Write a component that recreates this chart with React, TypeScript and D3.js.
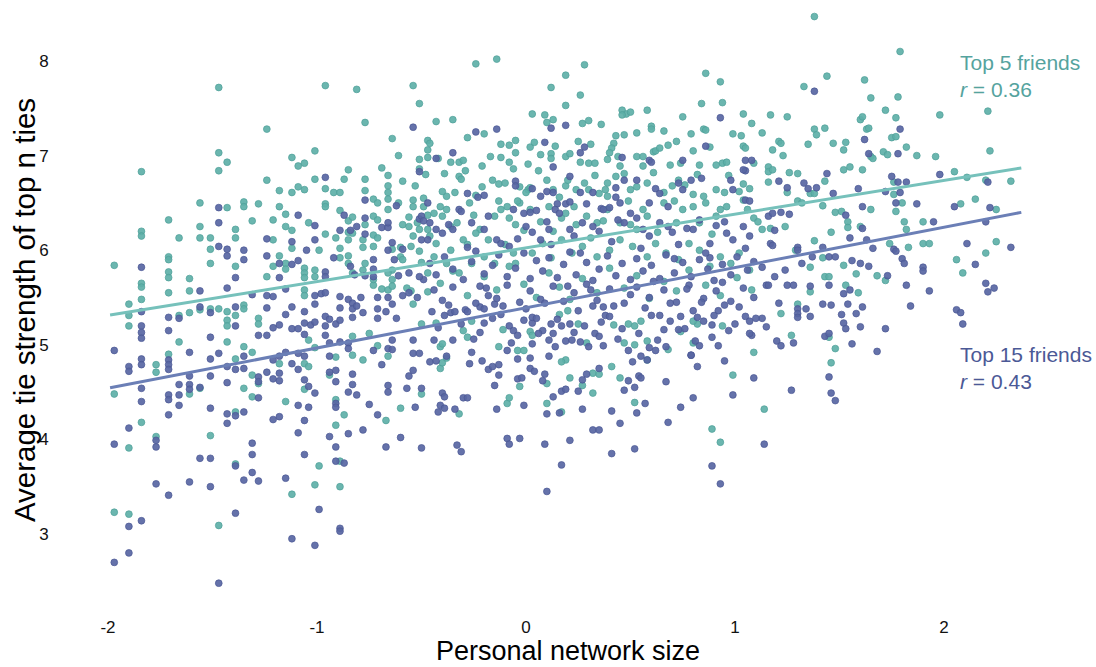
import React from "react";
import * as d3 from "d3";

// Average tie strength of a participant's top 5 / top 15 friends vs. personal network size (z-scored)
const top5Friends: [number, number][] = [
  [-1.47,7.72],[-0.96,7.74],[-0.81,7.70],[-0.54,7.74],[-0.51,7.55],[-1.24,7.28],[-0.77,7.35],[-0.64,7.18],[-0.61,7.00],[-1.84,6.83],
  [-1.47,7.03],[-1.43,6.93],[-1.47,6.84],[-1.12,6.98],[-1.06,6.92],[-1.09,6.89],[-1.01,7.05],[-0.85,6.85],[-0.87,6.75],[-0.77,6.75],
  [-0.69,6.87],[-0.66,6.79],[-0.59,6.73],[-0.53,6.68],[-1.24,6.74],[-1.18,6.63],[-1.12,6.61],[-1.06,6.64],[-1.09,6.67],[-1.01,6.75],
  [-0.96,6.65],[-0.92,6.61],[-0.89,6.61],[-0.77,6.63],[-1.56,6.50],[-1.35,6.51],[-1.35,6.46],[-1.28,6.49],[-1.43,6.45],[-1.18,6.46],
  [-1.15,6.38],[-1.21,6.32],[-1.31,6.31],[-1.71,6.32],[-1.84,6.20],[-1.84,6.15],[-1.66,6.13],[-1.56,6.25],[-1.56,6.13],[-1.51,6.13],
  [-1.39,6.22],[-1.39,6.13],[-1.51,6.01],[-1.51,5.86],[-1.71,5.93],[-1.71,5.90],[-1.71,5.77],[-1.71,5.71],[-1.71,5.55],[-1.84,5.65],
  [-1.84,5.61],[-1.84,5.48],[-1.97,5.84],[-1.61,5.70],[-1.61,5.57],[-1.39,5.83],[-1.24,5.72],[-1.21,6.11],[-1.15,6.25],[-1.12,6.21],
  [-1.12,6.02],[-1.15,5.86],[-1.15,5.80],[-1.18,5.94],[-1.21,5.83],[-1.06,5.81],[-1.06,5.76],[-1.06,5.71],[-1.06,5.58],[-1.06,5.52],
  [-1.01,5.79],[-1.01,5.72],[-1.04,6.29],[-0.99,6.00],[-0.96,6.49],[-0.96,6.46],[-0.96,6.17],[-0.89,6.42],[-0.91,6.13],[-0.89,6.02],
  [-0.89,5.92],[-0.85,6.31],[-0.85,6.19],[-0.85,6.11],[-0.85,5.94],[-0.85,5.86],[-0.83,6.35],[-0.83,6.18],[-0.83,5.76],[-0.78,6.11],
  [-0.78,6.03],[-0.78,5.79],[-0.77,6.27],[-0.77,5.86],[-0.73,6.54],[-0.71,6.50],[-0.73,6.36],[-0.71,6.32],[-0.73,6.16],[-0.71,6.13],
  [-0.73,6.04],[-0.73,5.63],[-0.73,5.69],[-0.69,5.59],[-0.66,5.58],[-0.66,6.68],[-0.66,6.61],[-0.66,6.54],[-0.66,6.43],[-0.61,6.50],
  [-0.59,6.27],[-0.56,6.35],[-0.56,6.25],[-0.54,6.53],[-0.54,6.46],[-0.52,6.29],[-0.51,6.22],[-0.54,6.15],[-0.64,6.01],[-0.60,6.03],
  [-0.60,5.93],[-0.64,5.79],[-0.66,5.76],[-0.64,5.69],[-0.64,5.62],[-0.59,5.90],[-0.55,6.04],[-0.51,5.99],[-0.50,5.87],[-0.47,7.16],
  [-0.47,7.06],[-0.51,6.96],[-0.47,6.98],[-0.51,6.86],[-0.48,6.80],[-0.49,6.55],[-0.49,6.46],[-0.47,6.37],[-0.47,6.22],[-0.47,5.76],
  [-0.47,5.56],[-0.57,5.60],[-0.55,5.57],
  [-1.90,5.43],[-1.90,5.31],[-1.90,5.20],[-1.66,5.31],[-1.66,5.03],[-1.61,5.34],[-1.56,5.37],[-1.51,5.38],[-1.47,5.38],[-1.43,5.35],
  [-1.43,5.26],[-1.43,5.20],[-1.39,5.31],[-1.35,5.42],[-1.35,5.38],[-1.28,5.28],[-1.28,5.22],[-1.43,5.03],[-1.35,4.98],[-1.31,4.92],
  [-1.39,4.85],[-1.77,4.79],[-1.77,4.71],[-1.71,4.90],[-1.97,4.48],[-1.61,4.48],[-1.56,4.54],[-1.35,4.54],[-1.31,4.68],[-1.31,4.45],
  [-1.28,4.59],[-1.18,4.80],[-1.15,4.40],[-1.06,4.80],[-1.04,4.77],[-1.06,4.53],[-1.04,5.05],[-1.01,4.97],[-0.91,4.87],[-0.94,4.68],
  [-0.91,4.42],[-0.91,4.15],[-0.87,4.26],[-0.83,5.09],[-0.83,4.89],[-0.78,4.84],[-0.66,4.88],[-0.60,4.33],[-0.67,4.20],[-0.54,5.43],
  [-0.50,5.22],[-0.50,4.48],[-0.75,5.12],[-0.71,4.99],[-1.84,4.18],[-1.77,4.03],[-1.90,3.91],[-1.51,4.04],[-1.39,4.29],[-1.39,3.74],
  [-1.97,3.23],[-1.90,3.21],[-1.47,3.09],[-1.12,3.42],[-1.01,3.52],[-0.99,3.72],[-0.89,3.50],[-0.89,3.77],
  [-0.41,4.75],[-0.40,4.81],[-0.32,4.27],[-0.09,4.38],[-0.08,4.44],[-0.03,4.56],[0.10,4.38],[0.10,4.59],[0.17,4.29],[0.21,4.65],
  [0.27,4.57],[0.32,4.70],[0.35,4.69],[0.32,4.49],[0.41,4.77],[0.45,4.65],[0.52,4.39],[0.89,4.11],[0.93,3.97],[0.99,4.68],
  [1.09,4.92],[-0.43,5.23],[-0.41,4.98],[-0.40,5.01],[-0.38,4.86],[-0.30,5.15],[-0.28,5.08],[-0.26,5.25],[-0.13,4.98],[-0.11,5.16],
  [-0.04,4.94],[-0.01,4.94],[0.02,5.14],[0.03,5.10],[0.16,5.32],[0.20,5.36],[0.25,5.22],[0.29,5.02],[0.42,5.21],[0.47,5.02],
  [0.49,5.22],[0.52,5.20],[0.52,5.00],[0.55,5.25],[0.58,5.04],[0.58,4.84],[0.68,4.95],[0.74,5.14],[0.80,5.02],[0.82,5.22],
  [0.80,5.25],[0.94,5.20],[0.19,4.84],[0.17,4.82],
  [1.22,5.33],[1.30,5.43],[1.27,5.10],[1.45,5.08],[1.48,4.96],[1.46,4.81],[1.14,4.32],
  [1.38,8.47],[1.79,8.10],[1.44,7.84],[1.62,7.80],[1.33,7.73],[1.65,7.61],[1.78,7.62],[1.17,7.43],[1.25,7.41],[1.98,7.43],
  [2.21,7.47],[1.72,7.48],[1.60,7.38],[1.61,7.41],[1.77,7.40],[1.38,7.28],[1.39,7.22],[1.43,7.29],[1.35,7.12],[1.47,7.13],
  [1.53,7.14],[1.52,7.06],[1.63,7.28],[1.64,7.29],[1.75,7.19],[1.77,7.20],[1.71,7.04],[1.73,7.01],[1.82,7.09],[1.87,7.00],
  [1.96,6.99],[2.22,7.05],[1.13,7.24],[1.21,7.15],[1.22,7.13],[1.18,7.06],[1.23,7.00],[1.16,6.88],[1.16,6.83],[1.18,6.85],
  [1.26,6.82],[1.30,6.81],[1.36,6.60],[1.38,6.60],[1.52,6.85],[1.55,6.88],[1.65,6.99],[1.66,6.97],[1.61,6.85],[1.43,6.73],
  [1.16,6.72],[1.25,6.61],[1.30,6.52],[1.32,6.50],[1.42,6.47],[1.48,6.40],[1.51,6.41],[1.54,6.30],[1.54,6.24],[1.60,6.25],
  [1.65,6.43],[1.76,6.72],[1.76,6.59],[1.80,6.50],[1.77,6.41],[1.81,6.30],[1.82,6.22],[1.90,6.30],[2.05,6.83],[2.11,6.77],
  [2.08,6.49],[2.15,6.54],[2.20,6.74],[2.25,6.43],[2.32,6.73],[1.90,6.07],[1.93,6.07],[1.83,6.03],[1.74,6.07],[1.46,6.19],
  [1.38,6.10],[1.36,5.82],[1.29,6.00],[1.42,5.92],[1.52,5.84],[1.58,5.75],[1.43,5.72],[1.45,5.72],[1.68,5.73],[1.72,5.68],
  [1.59,5.55],[1.53,5.63],[2.20,5.97],[2.06,5.90],[2.09,5.76],[2.25,6.09],[1.36,5.56],[1.13,6.22],[1.17,6.23],[1.24,6.25],
  [-0.24,7.97],[-0.14,8.02],[0.28,7.96],[0.19,7.85],[0.12,7.72],[0.26,7.64],[0.19,7.53],[0.86,7.87],[0.93,7.78],[0.94,7.56],
  [0.84,7.55],[0.75,7.41],[1.04,7.44],[1.08,7.34],[-0.43,7.36],[-0.35,7.38],[0.03,7.44],[0.09,7.43],[0.10,7.35],[0.13,7.38],
  [0.30,7.37],[0.27,7.34],[0.36,7.33],[0.46,7.48],[0.48,7.44],[0.50,7.46],[0.46,7.43],[0.58,7.48],[0.60,7.31],[0.60,7.28],
  [-0.28,7.19],[-0.20,7.23],[-0.12,7.12],[-0.08,7.11],[-0.05,7.16],[-0.05,7.03],[0.02,7.09],[0.04,7.14],[0.07,7.01],[0.14,7.10],
  [0.12,7.02],[0.12,6.97],[0.19,6.99],[0.21,7.02],[0.31,7.12],[0.42,7.13],[0.41,7.08],[0.43,7.21],[0.47,7.22],[0.53,7.24],
  [0.53,6.99],[0.56,6.99],[0.61,7.04],[0.62,7.05],[0.64,7.08],[0.68,7.11],[0.72,7.15],[0.79,7.23],[0.80,7.05],[0.85,7.28],
  [0.86,7.27],[0.99,7.23],[1.03,7.21],[1.04,7.10],[1.05,7.08],[0.94,6.92],[0.96,6.93],[0.91,6.90],[0.83,6.90],[0.74,6.92],
  [0.69,6.90],[0.56,6.89],[0.40,7.03],[0.39,6.96],[0.26,6.93],[0.30,6.92],[0.33,6.92],[0.01,6.91],[-0.08,6.93],[-0.06,6.86],
  [-0.21,6.89],[-0.36,6.93],[-0.32,6.93],[-0.30,6.95],[-0.39,6.81],[-0.32,6.78],[-0.31,6.75],[-0.46,7.13],[-0.42,6.97],[-0.12,6.98],
  [-0.16,6.74],[-0.13,6.70],[-0.10,6.71],[-0.03,6.67],[0.01,6.64],[0.00,6.61],[0.02,6.66],[0.10,6.74],[0.13,6.64],[0.19,6.68],
  [0.20,6.74],[0.24,6.64],[0.28,6.71],[0.30,6.64],[0.39,6.71],[0.38,6.64],[0.35,6.60],[0.39,6.57],[0.43,6.78],[0.47,6.81],
  [0.45,6.89],[0.50,6.64],[0.53,6.67],[0.58,6.71],[0.66,6.61],[0.70,6.68],[0.73,6.74],[0.76,6.69],[0.80,6.59],[0.85,6.57],
  [0.91,6.64],[0.95,6.61],[1.04,6.70],[1.07,6.65],[-0.21,6.67],[-0.24,6.58],[-0.27,6.50],[-0.34,6.61],[-0.38,6.57],[-0.41,6.46],
  [-0.13,6.52],[-0.09,6.46],[-0.03,6.50],[-0.44,6.39],[-0.38,6.43],[-0.40,6.36],[-0.36,6.25],[-0.33,6.29],[-0.30,6.11],[-0.28,6.06],
  [-0.22,6.22],[-0.24,6.18],[-0.18,6.11],[-0.15,6.36],[-0.12,6.43],[-0.08,6.34],[-0.05,6.27],[-0.01,6.21],[0.02,6.43],[0.07,6.30],
  [0.11,6.46],[0.17,6.34],[0.19,6.39],[0.23,6.46],[0.24,6.27],[0.29,6.36],[0.34,6.29],[0.37,6.31],[0.39,6.43],[0.45,6.29],
  [0.50,6.27],[0.53,6.22],[0.56,6.43],[0.58,6.36],[0.66,6.50],[0.72,6.29],[0.75,6.43],[0.80,6.46],[0.83,6.29],[0.86,6.50],
  [0.91,6.36],[0.93,6.43],[0.96,6.46],[1.04,6.53],[1.06,6.43],[1.09,6.34],[1.11,6.30],[-0.46,6.15],[-0.43,6.07],[-0.44,5.93],
  [-0.36,6.00],[-0.38,5.86],[-0.32,5.76],[-0.26,5.86],[-0.20,5.93],[-0.15,5.86],[-0.10,6.06],[-0.06,5.97],[-0.05,5.86],[0.03,5.97],
  [0.08,6.07],[0.12,5.92],[0.17,6.11],[0.22,5.97],[0.27,6.04],[0.34,5.93],[0.40,6.00],[0.45,6.11],[0.51,6.04],[0.58,5.93],
  [0.62,6.07],[0.67,5.97],[0.73,5.90],[0.78,6.07],[0.83,6.00],[0.88,5.83],[0.93,5.93],[0.98,5.86],[1.02,5.97],[1.07,5.79],
  [-0.41,5.65],[-0.35,5.78],[-0.28,5.52],[-0.20,5.72],[-0.14,5.58],[-0.08,5.83],[-0.01,5.64],[0.05,5.50],[0.11,5.76],[0.16,5.61],
  [0.21,5.48],[0.27,5.70],[0.34,5.55],[0.40,5.81],[0.47,5.60],[0.53,5.73],[0.59,5.49],[0.66,5.67],[0.72,5.57],[0.78,5.79],
  [0.86,5.63],[0.93,5.52],[1.01,5.71],[1.08,5.58],
  [-0.40,6.62],[-0.29,6.84],[-0.17,6.99],[-0.04,6.52],[0.06,6.84],[0.16,6.56],[0.25,7.15],[0.33,6.79],[0.44,6.99],[0.49,6.52],
  [0.61,6.82],[0.66,7.26],[0.71,6.52],[0.82,6.80],[0.88,7.09],[0.97,6.79],[1.02,6.62],[-0.25,6.37],[0.13,6.20],[0.31,6.13],
  [0.63,6.19],[0.89,6.17],[1.09,6.92],
];

const top15Friends: [number, number][] = [
  [-0.54,7.30],[-0.96,6.77],[-1.47,6.45],[-1.47,6.29],[-1.47,6.04],[-1.43,6.01],[-1.43,5.94],[-1.43,5.60],[-1.35,6.00],[-1.35,5.90],
  [-1.24,6.12],[-1.24,5.94],[-1.84,5.82],[-1.56,5.57],[-1.39,5.71],[-1.31,5.53],[-1.24,5.52],[-1.21,5.51],[-1.18,5.86],[-1.18,5.71],
  [-1.15,5.59],[-1.12,6.09],[-1.12,5.85],[-1.09,6.37],[-1.09,5.89],[-1.05,6.00],[-1.01,6.26],[-1.01,6.11],[-1.01,5.52],[-0.98,5.54],
  [-0.96,5.77],[-0.96,5.72],[-0.96,5.55],[-0.92,5.92],[-0.89,6.21],[-0.87,6.37],[-0.84,6.21],[-0.84,5.83],[-0.81,6.25],[-0.77,6.53],
  [-0.77,6.34],[-0.77,6.17],[-0.82,5.74],[-0.77,5.73],[-0.73,5.90],[-0.73,5.80],[-0.73,5.72],[-0.69,6.24],[-0.66,6.24],[-0.66,6.29],
  [-0.64,6.08],[-0.62,6.47],[-0.66,6.00],[-0.63,5.90],[-0.59,6.01],[-0.61,5.73],[-0.56,5.76],[-0.51,6.83],[-0.51,6.33],[-0.50,6.36],
  [-0.49,6.31],[-0.50,6.11],[-0.47,6.11],[-0.49,5.69],[-0.51,5.72],[-0.47,6.50],[-0.56,5.55],[-0.59,5.52],[-0.52,5.50],[-0.71,5.50],
  [-0.66,5.50],[-0.79,5.50],[-0.89,5.51],[-0.85,5.48],
  [-1.97,4.94],[-1.90,4.77],[-1.90,4.72],[-1.84,5.35],[-1.84,5.20],[-1.84,5.13],[-1.84,5.07],[-1.84,4.85],[-1.84,4.79],[-1.84,4.54],
  [-1.84,4.40],[-1.71,5.29],[-1.71,5.15],[-1.71,4.84],[-1.71,4.79],[-1.71,4.74],[-1.71,4.47],[-1.71,4.42],[-1.71,4.26],[-1.66,5.28],
  [-1.66,4.58],[-1.66,4.47],[-1.66,4.36],[-1.61,4.92],[-1.61,4.67],[-1.61,4.58],[-1.61,4.53],[-1.56,5.40],[-1.56,4.55],[-1.51,5.34],
  [-1.51,5.08],[-1.51,4.85],[-1.51,4.67],[-1.51,4.33],[-1.47,4.91],[-1.43,4.77],[-1.43,4.60],[-1.43,4.27],[-1.43,4.17],[-1.39,5.40],
  [-1.39,5.20],[-1.39,4.74],[-1.39,4.25],[-1.35,4.88],[-1.35,4.75],[-1.35,4.29],[-1.28,5.10],[-1.28,4.66],[-1.28,4.61],[-1.28,4.44],
  [-1.24,5.39],[-1.24,5.10],[-1.24,4.71],[-1.21,5.18],[-1.21,4.84],[-1.21,4.64],[-1.21,4.21],[-1.18,5.21],[-1.18,4.88],[-1.18,4.70],
  [-1.18,4.62],[-1.18,4.24],[-1.15,5.32],[-1.15,4.92],[-1.12,5.40],[-1.12,5.17],[-1.12,4.80],[-1.09,5.17],[-1.09,4.91],[-1.09,4.74],
  [-1.09,4.36],[-1.09,4.07],[-1.06,5.35],[-1.06,5.23],[-1.06,5.11],[-1.06,4.88],[-1.06,4.63],[-1.06,4.20],[-1.06,3.84],[-1.03,5.21],
  [-1.04,4.56],[-1.04,4.34],[-1.01,5.43],[-1.01,5.24],[-1.01,4.49],[-0.96,5.30],[-0.96,5.20],[-0.96,5.10],[-0.94,5.27],[-0.94,5.02],
  [-0.94,4.88],[-0.94,4.71],[-0.94,4.03],[-0.91,5.22],[-0.91,4.73],[-0.91,4.61],[-0.91,4.38],[-0.91,4.34],[-0.91,3.92],[-0.91,3.77],
  [-0.89,5.39],[-0.89,5.26],[-0.89,5.03],[-0.87,3.75],[-0.85,5.02],[-0.85,4.96],[-0.85,4.50],[-0.85,4.06],[-0.83,5.44],[-0.83,5.38],
  [-0.83,5.29],[-0.83,4.69],[-0.83,4.58],[-0.81,5.41],[-0.81,4.47],[-0.78,5.34],[-0.78,4.10],[-0.75,4.37],[-0.73,4.94],[-0.71,5.38],
  [-0.71,5.28],[-0.71,4.26],[-0.69,4.79],[-0.67,5.35],[-0.67,3.92],[-0.66,4.57],[-0.66,4.50],[-0.66,4.96],[-0.64,5.43],[-0.64,5.05],
  [-0.64,4.95],[-0.62,5.28],[-0.60,4.02],[-0.57,4.54],[-0.56,4.67],[-0.54,4.73],[-0.54,5.05],[-0.53,4.34],[-0.54,4.91],[-0.51,4.91],
  [-0.50,3.91],[-0.50,4.54],[-1.97,3.95],[-1.90,4.12],[-1.77,3.99],[-1.77,3.92],[-1.56,3.80],[-1.51,3.80],[-1.31,3.96],[-1.31,3.84],
  [-1.31,3.65],[-1.28,3.56],[-1.35,3.57],[-1.39,3.72],[-1.15,3.59],[-1.77,3.53],[-1.71,3.41],[-1.61,3.55],[-1.51,3.50],[-1.97,2.70],
  [-1.90,3.08],[-1.90,2.80],[-1.84,3.14],[-1.47,2.48],[-1.39,3.22],[-1.12,2.95],[-1.01,2.88],[-0.99,3.26],[-0.89,3.06],[-0.89,3.03],
  [-0.44,5.05],[-0.46,4.82],[-0.43,4.83],[-0.38,4.88],[-0.35,5.05],[-0.26,4.92],[-0.22,5.13],[-0.21,4.83],[-0.27,4.80],[-0.18,4.74],
  [-0.16,4.77],[-0.13,4.79],[-0.15,4.57],[-0.13,4.68],[-0.09,4.94],[-0.04,4.85],[-0.04,4.64],[-0.02,4.65],[0.02,4.75],[0.04,4.72],
  [0.02,4.86],[0.09,4.69],[0.08,4.62],[0.11,4.88],[0.13,4.45],[0.17,4.51],[0.19,4.53],[-0.01,4.36],[-0.14,4.32],[0.10,4.27],
  [0.16,4.28],[0.25,4.51],[0.27,4.63],[0.29,4.69],[0.35,4.75],[0.27,4.32],[0.41,4.30],[0.45,4.17],[0.47,4.52],[0.49,4.62],
  [0.52,4.55],[0.54,4.67],[0.55,4.65],[0.53,4.28],[0.57,4.38],[0.67,4.61],[0.68,4.18],[0.74,4.34],[0.80,4.44],[0.95,4.83],
  [0.99,4.47],[1.08,5.10],[1.09,4.65],[0.82,4.77],[0.79,4.89],[-0.40,4.49],[-0.39,4.45],[-0.41,4.36],[-0.39,4.33],[-0.42,4.29],
  [-0.30,4.44],[-0.28,4.44],[-0.34,4.32],[-0.09,4.01],[-0.08,3.95],[-0.03,4.01],[-0.33,3.94],[-0.31,3.87],[0.09,3.95],[0.21,3.99],
  [0.32,4.10],[0.35,4.10],[0.41,3.85],[0.52,3.90],[0.17,3.73],[0.10,3.45],[0.89,3.72],[0.93,3.53],
  [-0.45,5.35],[-0.39,5.31],[-0.36,5.34],[-0.34,5.35],[-0.29,5.37],[-0.28,5.35],[-0.22,5.40],[-0.20,5.38],[-0.20,5.23],[-0.16,5.28],
  [-0.15,5.43],[-0.12,5.32],[-0.08,5.20],[-0.06,5.15],[-0.04,5.10],[-0.01,5.26],[0.03,5.23],[0.03,5.29],[0.03,5.01],[0.05,5.28],
  [0.08,5.15],[0.12,5.22],[0.11,5.05],[0.13,5.12],[0.14,4.98],[0.17,5.20],[0.19,5.04],[0.21,5.22],[0.22,5.05],[0.23,5.13],
  [0.28,5.20],[0.30,4.98],[0.32,5.41],[0.33,5.12],[0.35,5.09],[0.37,4.99],[0.37,5.40],[0.38,5.31],[0.40,5.30],[0.46,5.17],
  [0.49,4.94],[0.51,4.82],[0.55,4.88],[0.58,4.84],[0.59,4.97],[0.60,5.31],[0.62,4.94],[0.64,5.31],[0.66,5.16],[0.67,4.98],
  [0.69,5.25],[0.73,5.16],[0.76,5.17],[0.79,4.89],[0.80,5.36],[0.82,5.29],[0.83,4.99],[0.85,5.25],[0.89,5.21],[0.89,5.08],
  [0.92,5.36],[0.92,4.99],[0.95,5.42],[1.00,5.22],[1.05,5.30],[1.07,5.25],[1.07,5.12],
  [1.21,5.44],[1.30,5.38],[1.30,5.33],[1.30,5.29],[1.34,5.38],[1.36,5.30],[1.42,5.43],[1.46,5.42],[1.51,5.32],[1.54,5.43],
  [1.52,5.23],[1.53,5.17],[1.58,5.33],[1.61,5.40],[1.60,5.19],[1.72,5.17],[1.84,5.41],[2.06,5.37],[2.08,5.34],[2.09,5.22],
  [1.13,5.28],[1.15,5.19],[1.20,5.04],[1.22,4.99],[1.28,5.02],[1.43,5.09],[1.45,5.12],[1.56,5.01],[1.68,4.93],[1.45,4.66],
  [1.27,4.52],[1.46,4.49],[1.48,4.41],[1.14,3.95],
  [1.38,7.68],[1.79,7.28],[1.62,7.17],[1.64,7.02],[1.78,7.02],[1.44,6.81],[1.21,6.73],[1.25,6.66],[1.33,6.71],[1.35,6.65],
  [1.39,6.66],[1.47,6.60],[1.59,6.65],[1.75,6.78],[1.78,6.72],[1.82,6.72],[1.79,6.61],[1.72,6.62],[1.98,6.80],[2.21,6.72],
  [1.61,6.46],[1.53,6.37],[1.77,6.50],[1.87,6.49],[2.05,6.46],[2.22,6.45],[1.95,6.30],[2.20,6.30],[1.16,6.36],[1.18,6.39],
  [1.22,6.40],[1.26,6.38],[1.19,6.21],[1.17,6.07],[1.18,6.05],[1.30,6.03],[1.30,6.00],[1.37,5.93],[1.42,6.03],[1.45,5.93],
  [1.48,5.93],[1.55,6.13],[1.61,6.23],[1.63,6.11],[1.66,6.02],[1.56,5.89],[1.60,5.86],[1.64,5.83],[1.73,5.73],[1.76,6.01],
  [1.77,5.99],[1.80,5.91],[1.81,5.86],[1.90,5.82],[1.90,5.78],[1.82,5.63],[1.93,5.57],[2.11,6.07],[2.15,5.85],[2.20,5.65],
  [2.21,5.56],[2.24,5.60],[2.32,6.03],[1.32,5.86],[1.24,5.79],[1.19,5.72],[1.25,5.63],[1.28,5.63],[1.36,5.62],[1.45,5.63],
  [1.52,5.54],[1.55,5.58],[1.15,5.63],[1.16,5.63],[1.13,5.82],
  [-0.24,7.25],[-0.14,7.28],[0.12,7.29],[0.19,7.32],[0.09,7.14],[0.13,6.88],[0.93,7.40],[0.86,7.10],[0.28,7.09],[0.26,7.03],
  [0.46,6.98],[0.59,6.95],[0.60,6.93],[0.75,6.95],[1.05,6.95],[1.08,6.95],[1.05,6.84],[-0.35,7.03],[-0.43,6.97],[-0.28,6.60],
  [-0.20,6.58],[-0.23,6.56],[-0.05,6.73],[-0.05,6.68],[0.03,6.65],[0.07,6.57],[0.10,6.62],[0.13,6.61],[0.15,6.49],[0.19,6.49],
  [0.21,6.51],[0.26,6.61],[0.32,6.61],[0.21,6.78],[0.29,6.49],[0.36,6.44],[0.43,6.66],[0.47,6.74],[0.53,6.74],[0.43,6.56],
  [0.45,6.50],[0.59,6.50],[0.62,6.65],[0.64,6.60],[0.68,6.46],[0.73,6.71],[0.75,6.64],[0.79,6.74],[0.84,6.76],[0.98,6.74],
  [0.99,6.64],[1.04,6.85],[1.05,6.53],[1.07,6.52],[-0.46,6.29],[-0.43,6.22],[-0.40,6.18],[-0.37,6.27],[-0.35,6.22],[-0.32,6.43],
  [-0.31,6.41],[-0.26,6.29],[-0.20,6.22],[-0.18,6.36],[-0.14,6.11],[-0.12,6.07],[-0.08,6.04],[-0.06,6.43],[-0.01,6.39],[0.02,6.40],
  [0.05,6.42],[0.00,6.25],[0.03,6.19],[0.07,6.11],[0.10,6.30],[0.11,6.22],[0.14,6.43],[0.16,6.39],[0.21,6.22],[0.23,6.15],
  [0.27,6.29],[0.32,6.25],[0.35,6.20],[0.37,6.43],[0.40,6.45],[0.44,6.32],[0.47,6.29],[0.50,6.39],[0.53,6.34],[0.56,6.22],
  [0.59,6.15],[0.64,6.29],[0.68,6.25],[0.70,6.19],[0.77,6.23],[0.80,6.22],[0.83,6.32],[0.88,6.07],[0.91,6.26],[0.96,6.18],
  [0.99,6.11],[1.04,6.25],[1.07,6.15],
  [-0.46,5.86],[-0.43,5.74],[-0.39,5.93],[-0.35,5.80],[-0.30,5.69],[-0.26,5.88],[-0.24,5.99],[-0.20,5.75],[-0.16,5.84],[-0.13,5.95],
  [-0.09,5.72],[-0.05,5.81],[-0.01,5.97],[0.02,5.70],[0.05,5.89],[0.08,5.78],[0.11,5.92],[0.15,5.71],[0.18,5.85],[0.21,5.98],
  [0.24,5.74],[0.29,5.87],[0.32,5.68],[0.35,5.80],[0.39,5.94],[0.43,5.73],[0.46,5.86],[0.50,5.69],[0.53,5.91],[0.56,5.78],
  [0.60,5.84],[0.64,5.70],[0.67,5.95],[0.71,5.76],[0.75,5.87],[0.79,5.72],[0.83,5.90],[0.87,5.80],[0.90,5.68],[0.94,5.85],
  [0.98,5.74],[1.01,5.93],[1.06,5.79],[1.09,5.88],
  [-0.44,5.58],[-0.40,5.47],[-0.35,5.61],[-0.24,5.44],[-0.19,5.60],[-0.14,5.49],[-0.09,5.63],[-0.03,5.45],[0.02,5.57],[0.07,5.48],
  [0.13,5.62],[0.18,5.46],[0.23,5.55],[0.29,5.64],[0.34,5.47],[0.40,5.59],[0.47,5.44],[0.53,5.61],[0.59,5.50],[0.66,5.58],
  [0.72,5.45],[0.78,5.63],[0.85,5.49],[0.91,5.57],[0.98,5.46],[1.04,5.60],[1.09,5.50],
  [-0.42,5.18],[-0.37,5.42],[-0.31,5.22],[-0.25,5.06],[-0.18,5.52],[-0.11,5.41],[-0.07,5.02],[0.00,5.38],[0.06,5.12],[0.09,5.44],
  [0.15,5.27],[0.20,5.62],[0.25,5.36],[0.26,5.03],[0.31,5.58],[0.36,5.24],[0.42,5.41],[0.44,5.06],[0.50,5.53],[0.54,5.12],
  [0.57,5.39],[0.61,5.67],[0.63,5.05],[0.69,5.44],[0.71,5.91],[0.74,5.30],[0.77,5.59],[0.81,5.04],[0.84,5.45],[0.88,5.92],
  [0.90,5.31],[0.94,5.66],[0.97,5.15],[1.02,5.40],[1.05,6.02],[1.10,5.28],[-0.28,6.03],[-0.22,5.62],[-0.04,6.12],[0.12,6.06],
  [0.26,5.97],[0.41,6.09],[0.55,6.02],[0.73,6.06],[0.86,5.97],[0.95,6.30],
];

// Fitted OLS lines, given by their two end points
const top5Trend: [number, number][] = [[-1.99, 5.315], [2.37, 6.87]];
const top15Trend: [number, number][] = [[-1.99, 4.545], [2.37, 6.40]];

const xTicks = [-2, -1, 0, 1, 2];
const yTicks = [3, 4, 5, 6, 7, 8];

const TEAL = "#5eb0a8";
const TEAL_EDGE = "#4e9f98";
const TEAL_LINE = "#76c1bb";
const TEAL_TEXT = "#55a39e";
const NAVY = "#5866a3";
const NAVY_EDGE = "#4a5793";
const NAVY_LINE = "#6b7fb6";
const NAVY_TEXT = "#4b5996";

const FONT = "'Liberation Sans', Arial, Helvetica, sans-serif";

export default function App() {
  const width = 1096;
  const height = 667;
  const x = d3.scaleLinear().domain([-2, 2.37]).range([108, 1021.3]);
  const y = d3.scaleLinear().domain([3, 8]).range([534, 61]);
  const line = d3
    .line<[number, number]>()
    .x((d) => x(d[0]))
    .y((d) => y(d[1]));

  return (
    <svg
      width={width}
      height={height}
      style={{ position: "absolute", left: 0, top: 0, background: "#fff" }}
      fontFamily={FONT}
    >
      <g>
        {top5Friends.map((d, i) => (
          <circle
            key={"a" + i}
            cx={x(d[0])}
            cy={y(d[1])}
            r={3.4}
            fill={TEAL}
            fillOpacity={0.92}
            stroke={TEAL_EDGE}
            strokeWidth={0.7}
          />
        ))}
      </g>
      <g>
        {top15Friends.map((d, i) => (
          <circle
            key={"b" + i}
            cx={x(d[0])}
            cy={y(d[1])}
            r={3.4}
            fill={NAVY}
            fillOpacity={0.92}
            stroke={NAVY_EDGE}
            strokeWidth={0.7}
          />
        ))}
      </g>
      <path d={line(top5Trend) ?? ""} stroke={TEAL_LINE} strokeWidth={3} fill="none" />
      <path d={line(top15Trend) ?? ""} stroke={NAVY_LINE} strokeWidth={3} fill="none" />

      {xTicks.map((t) => (
        <text key={"x" + t} x={x(t)} y={633} textAnchor="middle" fontSize={17} fill="#111">
          {t}
        </text>
      ))}
      {yTicks.map((t) => (
        <text key={"y" + t} x={44} y={y(t) + 6} textAnchor="middle" fontSize={17} fill="#111">
          {t}
        </text>
      ))}

      <text x={568} y={660} textAnchor="middle" fontSize={27} fill="#000">
        Personal network size
      </text>
      <text
        transform="translate(35,310) rotate(-90)"
        textAnchor="middle"
        fontSize={29.5}
        fill="#000"
      >
        Average tie strength of top n ties
      </text>

      <text x={960} y={70} fontSize={21} fill={TEAL_TEXT}>
        Top 5 friends
      </text>
      <text x={960} y={97} fontSize={21} fill={TEAL_TEXT}>
        <tspan fontStyle="italic">r</tspan> = 0.36
      </text>
      <text x={960} y={362} fontSize={21} fill={NAVY_TEXT}>
        Top 15 friends
      </text>
      <text x={960} y={389} fontSize={21} fill={NAVY_TEXT}>
        <tspan fontStyle="italic">r</tspan> = 0.43
      </text>
    </svg>
  );
}
